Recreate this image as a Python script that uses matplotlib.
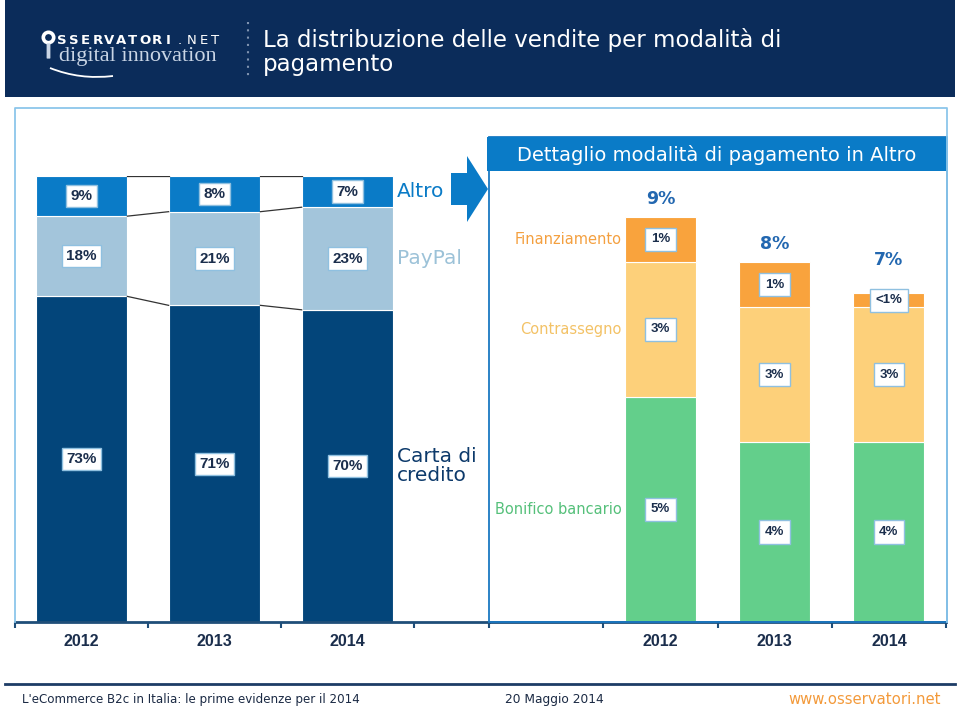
import matplotlib
matplotlib.use('Agg')
import matplotlib.pyplot as plt
import matplotlib.patches as mpatches
import matplotlib.transforms as mtransforms
from matplotlib.lines import Line2D
from matplotlib.path import Path
import numpy as np

# ---------------- data ----------------
years = ['2012', '2013', '2014']
carta = [73, 71, 70]
paypal = [18, 21, 23]
altro = [9, 8, 7]
bonifico = [5, 4, 4]
contrassegno = [3, 3, 3]
finanziamento = [1, 1, 0.3]
finanziamento_labels = ['1%', '1%', '<1%']
altro_totals = ['9%', '8%', '7%']

# ---------------- style ----------------
NAVY_HDR = '#0b2c5a'
C_CARTA = '#03457a'
C_PAYPAL = '#a3c5db'
C_ALTRO = '#0a7bc7'
C_FIN = '#f9a33d'
C_CONTR = '#fdd07a'
C_BONIF = '#63cf8b'
FRAME = '#8cc6ea'
AXIS = '#1f4e79'
TXT = '#1b2e4c'
SANS = ['DejaVu Sans']
ARIAL = ['Liberation Sans', 'DejaVu Sans']

W, H = 960, 711
fig = plt.figure(figsize=(9.6, 7.11), dpi=100)
fig.patch.set_facecolor('white')
# pixel (from top-left) transform
PX = mtransforms.Affine2D().scale(1 / W, -1 / H).translate(0, 1) + fig.transFigure


def rect_axes(x0, y0, x1, y1):
    return [x0 / W, 1 - y1 / H, (x1 - x0) / W, (y1 - y0) / H]


box_big = dict(boxstyle='square,pad=0.27', fc='white', ec='#8fc0e0', lw=1)
box_small = dict(boxstyle='square,pad=0.42', fc='white', ec='#8fc0e0', lw=1)

# ---------------- header ----------------
fig.add_artist(mpatches.Rectangle((5, 0), 950, 97, transform=PX, fc=NAVY_HDR, ec='none'))
fig.text(263, 47, 'La distribuzione delle vendite per modalità di', transform=PX,
         color='white', fontsize=16.5, family=SANS, va='baseline', ha='left')
fig.text(263, 71, 'pagamento', transform=PX,
         color='white', fontsize=16.5, family=SANS, va='baseline', ha='left')

# logo
fig.add_artist(mpatches.Circle((48.5, 37.5), 5.2, transform=PX, fc=NAVY_HDR, ec='white', lw=2.6))
fig.add_artist(mpatches.FancyBboxPatch((47.2, 44), 2.6, 14, boxstyle='round,pad=0.6',
                                       transform=PX, fc='#c9d5e5', ec='none'))
logo_letters = list('SSERVATORI.NET')
for i, ch in enumerate(logo_letters):
    fig.text(62 + i * 11.8, 44, ch, transform=PX, color='white', fontsize=9.5,
             family=SANS, weight='bold' if i < 10 else 'normal', ha='center', va='baseline')
fig.text(59, 61, 'digital innovation', transform=PX, color='#c9d5e5', fontsize=16,
         family=['Liberation Serif', 'DejaVu Serif'], ha='left', va='baseline')
sw = Path([(50, 68), (80, 80), (113, 76)], [Path.MOVETO, Path.CURVE3, Path.CURVE3])
fig.add_artist(mpatches.PathPatch(sw, transform=PX, fc='none', ec='white', lw=1.3))
fig.add_artist(Line2D([248, 248], [22, 80], transform=PX, color='#7f93b0', lw=1.5,
                      linestyle=(0, (1, 2.5))))

# outer light-blue frame
fig.add_artist(Line2D([15, 15, 947, 947], [622, 108, 108, 622], transform=PX,
                      color=FRAME, lw=1.3))

# ---------------- left chart ----------------
axL = fig.add_axes(rect_axes(15, 176, 489, 622))
axL.patch.set_alpha(0)
x = np.arange(len(years))
wL = 0.69
axL.set_xlim(-0.5, -0.5 + 474 / 133)
axL.set_ylim(0, 100)
b1 = np.array(carta, float)
b2 = b1 + np.array(paypal, float)
b3 = b2 + np.array(altro, float)
axL.bar(x, carta, wL, color=C_CARTA, edgecolor='white', lw=0.8)
axL.bar(x, paypal, wL, bottom=b1, color=C_PAYPAL, edgecolor='white', lw=0.8)
axL.bar(x, altro, wL, bottom=b2, color=C_ALTRO, edgecolor='white', lw=0.8)
for lvl in (b1, b2, b3):
    for i in range(len(x) - 1):
        axL.plot([x[i] + wL / 2, x[i + 1] - wL / 2], [lvl[i], lvl[i + 1]],
                 color='#333333', lw=0.9)
for i in range(len(x)):
    for bot, val in ((0, carta[i]), (b1[i], paypal[i]), (b2[i], altro[i])):
        axL.text(x[i], bot + val / 2, f'{val}%', ha='center', va='center',
                 fontsize=11, weight='bold', family=ARIAL, color=TXT, bbox=box_big)
# series labels
lx = x[-1] + wL / 2 + 0.025
axL.text(lx, b2[-1] + altro[-1] / 2, 'Altro', color=C_ALTRO, fontsize=14.5,
         family=SANS, ha='left', va='center')
axL.text(lx, b1[-1] + paypal[-1] / 2, 'PayPal', color='#9cc2d8', fontsize=14.5,
         family=SANS, ha='left', va='center')
axL.text(lx, carta[-1] / 2, 'Carta di\ncredito', color='#0d3a6b', fontsize=14.5,
         family=SANS, ha='left', va='center', linespacing=1.05)

# ---------------- right chart ----------------
axR = fig.add_axes(rect_axes(489, 172, 946, 622))
axR.patch.set_alpha(0)
xr = np.arange(1, len(years) + 1)
wR = 0.62
axR.set_xlim(-0.5, 3.5)
axR.set_ylim(0, 10)
r1 = np.array(bonifico, float)
r2 = r1 + np.array(contrassegno, float)
r3 = r2 + np.array(finanziamento, float)
axR.bar(xr, bonifico, wR, color=C_BONIF, edgecolor='white', lw=0.8)
axR.bar(xr, contrassegno, wR, bottom=r1, color=C_CONTR, edgecolor='white', lw=0.8)
axR.bar(xr, finanziamento, wR, bottom=r2, color=C_FIN, edgecolor='white', lw=0.8)
for i in range(len(xr)):
    axR.text(xr[i], bonifico[i] / 2, f'{bonifico[i]}%', ha='center', va='center',
             fontsize=9.5, weight='bold', family=ARIAL, color=TXT, bbox=box_small)
    axR.text(xr[i], r1[i] + contrassegno[i] / 2, f'{contrassegno[i]}%', ha='center',
             va='center', fontsize=9.5, weight='bold', family=ARIAL, color=TXT, bbox=box_small)
    axR.text(xr[i], r2[i] + finanziamento[i] / 2, finanziamento_labels[i], ha='center',
             va='center', fontsize=9.5, weight='bold', family=ARIAL, color=TXT, bbox=box_small)
    extra = 0.35 if finanziamento[i] < 0.5 else 0.0
    axR.text(xr[i], r3[i] + 0.4 + extra, altro_totals[i], ha='center', va='center',
             fontsize=12.5, weight='bold', family=SANS, color='#2267b0')
rx = xr[0] - wR / 2 - 0.03
axR.text(rx, r2[0] + finanziamento[0] / 2, 'Finanziamento', color='#f4a040', fontsize=10.5,
         family=SANS, ha='right', va='center')
axR.text(rx, r1[0] + contrassegno[0] / 2, 'Contrassegno', color='#f3c266', fontsize=10.5,
         family=SANS, ha='right', va='center')
axR.text(rx, bonifico[0] / 2, 'Bonifico bancario', color='#55c07a', fontsize=10.5,
         family=SANS, ha='right', va='center')

# axes styling
for ax, majors, minors in ((axL, [-0.5, 0.5, 1.5, 2.5], x), (axR, [-0.5, 0.5, 1.5, 2.5, 3.5], xr)):
    for s in ('top', 'left', 'right'):
        ax.spines[s].set_visible(False)
    ax.spines['bottom'].set_color(AXIS)
    ax.spines['bottom'].set_linewidth(2)
    ax.set_yticks([])
    ax.set_xticks(majors)
    ax.set_xticklabels([''] * len(majors))
    ax.tick_params(axis='x', which='major', direction='out', length=4, width=1.5, color=AXIS)
    ax.set_xticks(minors, minor=True)
    ax.set_xticklabels(years, minor=True, fontsize=11.5, weight='bold', family=ARIAL, color=TXT)
    ax.tick_params(axis='x', which='minor', length=0, pad=9)

# right panel frame + header
fig.add_artist(mpatches.Rectangle((489, 137), 458, 485, transform=PX, fc='none',
                                  ec='#1a78c2', lw=1.3))
fig.add_artist(mpatches.Rectangle((487, 137), 460, 34, transform=PX, fc=C_ALTRO, ec='none'))
fig.text(717, 155, 'Dettaglio modalità di pagamento in Altro', transform=PX, color='white',
         fontsize=14, family=SANS, ha='center', va='center')

# arrow
fig.add_artist(mpatches.FancyArrow(451, 189, 37, 0, width=32, head_width=66, head_length=21,
                                   length_includes_head=True, transform=PX,
                                   fc=C_ALTRO, ec='none'))

# ---------------- footer ----------------
fig.add_artist(Line2D([5, 955], [684, 684], transform=PX, color='#1d3c66', lw=2))
fig.text(22, 699, "L'eCommerce B2c in Italia: le prime evidenze per il 2014", transform=PX,
         color='#1b2a44', fontsize=8.6, family=SANS, ha='left', va='center')
fig.text(505, 699, '20 Maggio 2014', transform=PX, color='#1b2a44', fontsize=8.8,
         family=SANS, ha='left', va='center')
fig.text(941, 699, 'www.osservatori.net', transform=PX, color='#f39a3b', fontsize=10.7,
         family=SANS, ha='right', va='center')

fig.savefig('out.png', dpi=100, facecolor='white')
